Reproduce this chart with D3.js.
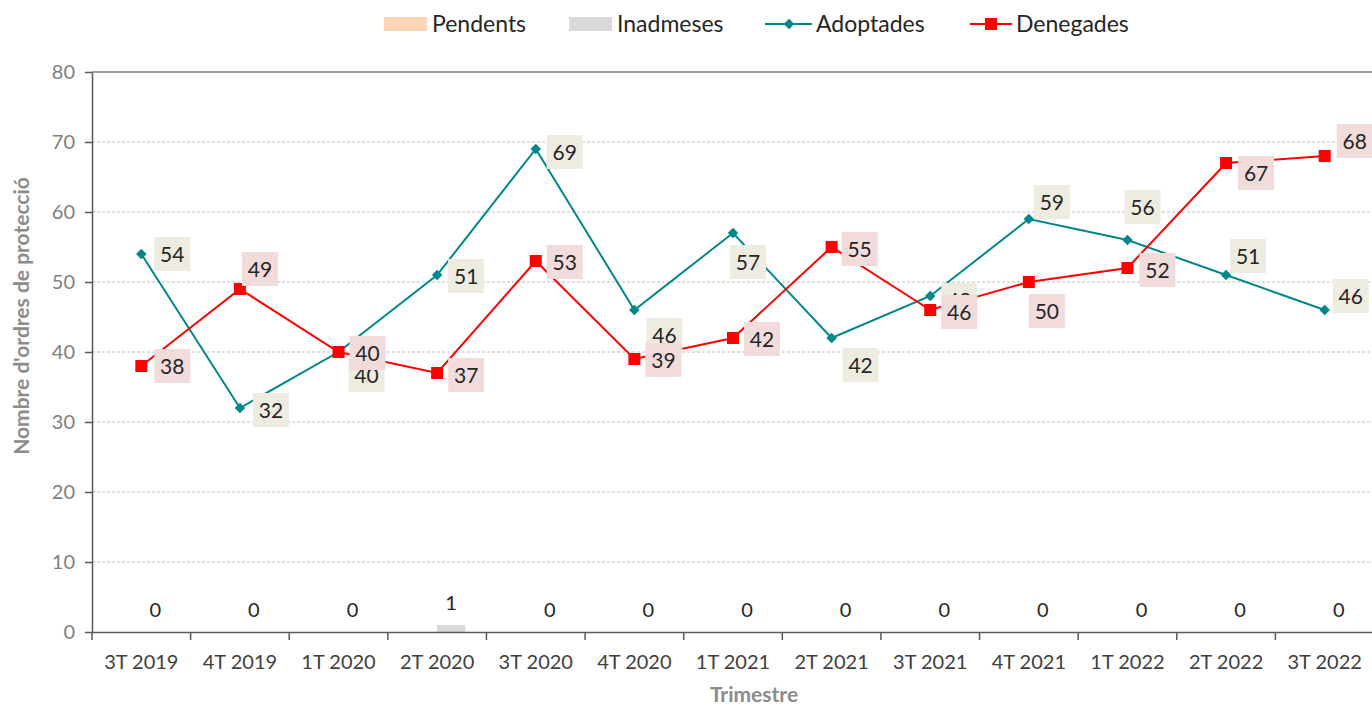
<!doctype html>
<html>
<head>
<meta charset="utf8">
<style>
  body { margin: 0; background: #fff; }
  text { font-family: Lato, "Open Sans", sans-serif; }
</style>
<script src="https://d3js.org/d3.v7.min.js"></script>
</head>
<body>
<svg width="1372" height="707"></svg>
<script>
// data
var quarters = ["3T 2019", "4T 2019", "1T 2020", "2T 2020", "3T 2020", "4T 2020", "1T 2021",
                "2T 2021", "3T 2021", "4T 2021", "1T 2022", "2T 2022", "3T 2022"];
var pendents  = [0, 0, 0, 0, 0, 0, 0, 0, 0, 0, 0, 0, 0];
var inadmeses = [0, 0, 0, 1, 0, 0, 0, 0, 0, 0, 0, 0, 0];
var adoptades = [54, 32, 40, 51, 69, 46, 57, 42, 48, 59, 56, 51, 46];
var denegades = [38, 49, 40, 37, 53, 39, 42, 55, 46, 50, 52, 67, 68];
var yTicks = [0, 10, 20, 30, 40, 50, 60, 70, 80];

// label placement (dx, dy from point), like Excel's hand-moved labels
var adoptOffsets = [[31,0],[31,2],[28,23],[29,1],[29,3],[30,25],[15,29],[29,27],[29,4],[23,-17],[15,-33],[22,-19],[26,-14]];
var denegOffsets = [[31,0],[20,-20],[29,1],[29,2],[29,1],[29,1],[29,1],[28,2],[29,2],[18,29],[30,2],[30,10],[30,-15]];

var svg = d3.select("svg");
var margin = {left: 92, top: 72},
    width = 1282, height = 560;

var x = d3.scaleBand().domain(quarters).range([0, width]);
var y = d3.scaleLinear().domain([0, 80]).range([height, 0]);

var g = svg.append("g").attr("transform", "translate(" + margin.left + "," + margin.top + ")");

// gridlines
g.selectAll(".grid").data(yTicks.filter(function(d) { return d > 0 && d < 80; }))
  .enter().append("line")
  .attr("x1", 0).attr("x2", width)
  .attr("y1", function(d) { return y(d); }).attr("y2", function(d) { return y(d); })
  .attr("stroke", "#c0c0c0").attr("stroke-dasharray", "3,2");

g.append("line").attr("x1", 0).attr("x2", width).attr("y1", y(80)).attr("y2", y(80))
  .attr("stroke", "#7f7f7f").attr("stroke-width", 1.5);

// clustered bars: Pendents left of the centre, Inadmeses right of it
var barW = 28;
g.selectAll(".pend").data(quarters).enter().append("rect")
  .attr("x", function(d) { return x(d) + x.bandwidth() / 2 - barW; })
  .attr("y", function(d, i) { return y(pendents[i]); })
  .attr("width", barW)
  .attr("height", function(d, i) { return height - y(pendents[i]); })
  .attr("fill", "#fcd5b5");
g.selectAll(".inad").data(quarters).enter().append("rect")
  .attr("x", function(d) { return x(d) + x.bandwidth() / 2; })
  .attr("y", function(d, i) { return y(inadmeses[i]); })
  .attr("width", barW)
  .attr("height", function(d, i) { return height - y(inadmeses[i]); })
  .attr("fill", "#d9d9d9");
g.selectAll(".inadLbl").data(quarters).enter().append("text")
  .attr("x", function(d) { return x(d) + x.bandwidth() / 2 + barW / 2; })
  .attr("y", function(d, i) { return y(inadmeses[i]) - 15; })
  .attr("text-anchor", "middle")
  .attr("font-size", 20).attr("fill", "#262626")
  .text(function(d, i) { return inadmeses[i]; });

// axes
var xAxis = g.append("g").attr("transform", "translate(0," + height + ")")
  .call(d3.axisBottom(x).tickSize(0).tickPadding(23));
xAxis.select(".domain").attr("stroke", "#595959").attr("stroke-width", 1.5);
xAxis.selectAll("text").attr("font-size", 20).attr("fill", "#404040")
  .attr("font-family", "Lato, sans-serif");
xAxis.selectAll(".sep").data(quarters).enter().append("line")
  .attr("x1", function(d) { return x(d); }).attr("x2", function(d) { return x(d); })
  .attr("y1", 0).attr("y2", 8).attr("stroke", "#595959").attr("stroke-width", 1.5);

var yAxis = g.append("g")
  .call(d3.axisLeft(y).tickValues(yTicks).tickSize(7).tickPadding(10).tickSizeOuter(0));
yAxis.select(".domain").attr("stroke", "#595959").attr("stroke-width", 1.5);
yAxis.selectAll(".tick line").attr("stroke", "#595959").attr("stroke-width", 1.5);
yAxis.selectAll("text").attr("font-size", 20).attr("fill", "#808080")
  .attr("font-family", "Lato, sans-serif");

// axis titles
svg.append("text")
  .attr("transform", "translate(29,316) rotate(-90)")
  .attr("text-anchor", "middle").attr("font-size", 21).attr("font-weight", "bold")
  .attr("fill", "#8c8c8c").text("Nombre d'ordres de protecció");
svg.append("text")
  .attr("x", 754).attr("y", 702)
  .attr("text-anchor", "middle").attr("font-size", 21).attr("font-weight", "bold")
  .attr("fill", "#8c8c8c").text("Trimestre");

// lines
var cx = function(i) { return x(quarters[i]) + x.bandwidth() / 2; };
var line = d3.line().x(function(d, i) { return cx(i); }).y(function(d) { return y(d); });

var teal = "#00878a", red = "#ff0000";

g.append("path").datum(adoptades).attr("d", line)
  .attr("fill", "none").attr("stroke", teal).attr("stroke-width", 2);
g.selectAll(".dia").data(adoptades).enter().append("path")
  .attr("d", d3.symbol().type(d3.symbolDiamond2).size(70))
  .attr("transform", function(d, i) { return "translate(" + cx(i) + "," + y(d) + ")"; })
  .attr("fill", teal);

g.append("path").datum(denegades).attr("d", line)
  .attr("fill", "none").attr("stroke", red).attr("stroke-width", 2);
g.selectAll(".sq").data(denegades).enter().append("rect")
  .attr("x", function(d, i) { return cx(i) - 6; })
  .attr("y", function(d) { return y(d) - 6; })
  .attr("width", 12).attr("height", 12)
  .attr("fill", red);

// data labels
function labels(vals, offs, bg) {
  var lg = g.append("g").selectAll("g").data(vals).enter().append("g")
    .attr("transform", function(d, i) {
      return "translate(" + (cx(i) + offs[i][0]) + "," + (y(d) + offs[i][1]) + ")";
    });
  lg.append("rect").attr("x", -18).attr("y", -17).attr("width", 36).attr("height", 34).attr("fill", bg);
  lg.append("text").attr("text-anchor", "middle").attr("dy", "0.36em")
    .attr("font-size", 21).attr("fill", "#262626")
    .text(function(d) { return d; });
}
labels(adoptades, adoptOffsets, "#eeece1");
labels(denegades, denegOffsets, "#f2dcdb");

// legend
var leg = svg.append("g").attr("font-size", 23).attr("fill", "#262626");
leg.append("rect").attr("x", 384).attr("y", 17).attr("width", 43).attr("height", 14).attr("fill", "#fcd5b5");
leg.append("text").attr("x", 432).attr("y", 32).text("Pendents");
leg.append("rect").attr("x", 569).attr("y", 17).attr("width", 43).attr("height", 14).attr("fill", "#d9d9d9");
leg.append("text").attr("x", 617).attr("y", 32).text("Inadmeses");
leg.append("line").attr("x1", 765).attr("x2", 812).attr("y1", 24).attr("y2", 24)
  .attr("stroke", teal).attr("stroke-width", 2);
leg.append("path").attr("d", d3.symbol().type(d3.symbolDiamond2).size(70))
  .attr("transform", "translate(789,24)").attr("fill", teal);
leg.append("text").attr("x", 816).attr("y", 32).text("Adoptades");
leg.append("line").attr("x1", 970).attr("x2", 1012).attr("y1", 24).attr("y2", 24)
  .attr("stroke", red).attr("stroke-width", 2);
leg.append("rect").attr("x", 985).attr("y", 18).attr("width", 12).attr("height", 12).attr("fill", red);
leg.append("text").attr("x", 1016).attr("y", 32).text("Denegades");
</script>
</body>
</html>
